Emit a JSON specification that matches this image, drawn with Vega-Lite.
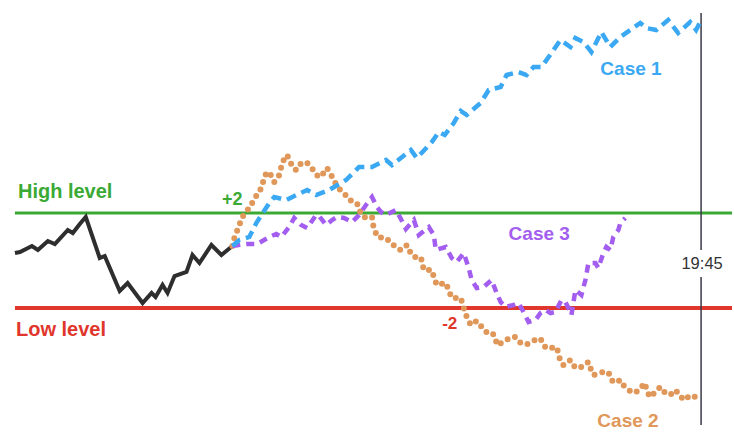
{
  "$schema": "https://vega.github.io/schema/vega-lite/v6.json",
  "width": 734,
  "height": 445,
  "autosize": {"type": "fit", "contains": "padding"},
  "padding": 0,
  "background": "white",
  "config": {"view": {"stroke": null}, "font": "Liberation Sans"},
  "datasets": {
    "history": [
      {"x":15,"y":253},{"x":20,"y":252},{"x":32,"y":246},{"x":38,"y":250},{"x":48,"y":241},{"x":55,"y":244},{"x":68,"y":230},{"x":73,"y":233},{"x":80,"y":224},{"x":86,"y":217},{"x":100,"y":258},{"x":105,"y":256},{"x":120,"y":291},{"x":128,"y":283},{"x":143,"y":303},{"x":152,"y":293},{"x":156,"y":297},{"x":163,"y":285},{"x":168,"y":293},{"x":175,"y":276},{"x":187,"y":272},{"x":193,"y":255},{"x":200,"y":263},{"x":212,"y":245},{"x":222,"y":255},{"x":233,"y":246}
    ],
    "case1": [
      {"x":233,"y":246},{"x":240,"y":240},{"x":250,"y":237},{"x":257,"y":223},{"x":270,"y":203},{"x":275,"y":197},{"x":287,"y":200},{"x":297,"y":195},{"x":308,"y":190},{"x":317,"y":195},{"x":330,"y":190},{"x":347,"y":180},{"x":360,"y":167},{"x":373,"y":167},{"x":387,"y":160},{"x":393,"y":165},{"x":412,"y":150},{"x":418,"y":158},{"x":433,"y":142},{"x":440,"y":132},{"x":446,"y":135},{"x":455,"y":123},{"x":462,"y":111},{"x":468,"y":115},{"x":482,"y":103},{"x":490,"y":90},{"x":502,"y":87},{"x":508,"y":75},{"x":520,"y":72},{"x":528,"y":75},{"x":535,"y":67},{"x":543,"y":67},{"x":553,"y":53},{"x":562,"y":40},{"x":572,"y":47},{"x":577,"y":38},{"x":585,"y":42},{"x":593,"y":52},{"x":603,"y":32},{"x":612,"y":47},{"x":622,"y":37},{"x":632,"y":30},{"x":642,"y":23},{"x":648,"y":28},{"x":658,"y":30},{"x":670,"y":20},{"x":680,"y":33},{"x":692,"y":22},{"x":698,"y":30},{"x":703,"y":20}
    ],
    "case2": [
      {"x":233,"y":246},{"x":235,"y":238},{"x":240,"y":225},{"x":243,"y":217},{"x":252,"y":205},{"x":255,"y":198},{"x":260,"y":193},{"x":262,"y":187},{"x":267,"y":173},{"x":270,"y":172},{"x":275,"y":182},{"x":280,"y":175},{"x":283,"y":163},{"x":287,"y":155},{"x":290,"y":158},{"x":293,"y":167},{"x":297,"y":170},{"x":302,"y":163},{"x":307,"y":162},{"x":312,"y":167},{"x":317,"y":175},{"x":322,"y":177},{"x":325,"y":172},{"x":328,"y":168},{"x":332,"y":175},{"x":335,"y":180},{"x":338,"y":187},{"x":345,"y":193},{"x":350,"y":200},{"x":357,"y":202},{"x":360,"y":207},{"x":362,"y":215},{"x":367,"y":218},{"x":373,"y":217},{"x":375,"y":230},{"x":380,"y":238},{"x":385,"y":237},{"x":392,"y":242},{"x":397,"y":248},{"x":402,"y":250},{"x":408,"y":245},{"x":410,"y":250},{"x":415,"y":257},{"x":422,"y":257},{"x":425,"y":270},{"x":433,"y":270},{"x":435,"y":277},{"x":438,"y":285},{"x":447,"y":283},{"x":453,"y":298},{"x":462,"y":298},{"x":465,"y":308},{"x":468,"y":317},{"x":472,"y":325},{"x":478,"y":321},{"x":483,"y":327},{"x":487,"y":332},{"x":493,"y":332},{"x":497,"y":338},{"x":498,"y":345},{"x":505,"y":342},{"x":512,"y":337},{"x":517,"y":337},{"x":522,"y":343},{"x":527,"y":345},{"x":533,"y":342},{"x":540,"y":338},{"x":545,"y":342},{"x":547,"y":348},{"x":552,"y":348},{"x":558,"y":347},{"x":560,"y":353},{"x":562,"y":362},{"x":565,"y":365},{"x":572,"y":360},{"x":577,"y":368},{"x":583,"y":367},{"x":590,"y":362},{"x":592,"y":368},{"x":595,"y":375},{"x":605,"y":372},{"x":610,"y":372},{"x":613,"y":380},{"x":617,"y":383},{"x":622,"y":380},{"x":625,"y":385},{"x":630,"y":390},{"x":637,"y":393},{"x":642,"y":388},{"x":647,"y":383},{"x":648,"y":390},{"x":652,"y":397},{"x":657,"y":392},{"x":662,"y":387},{"x":667,"y":393},{"x":672,"y":395},{"x":677,"y":390},{"x":682,"y":395},{"x":685,"y":400},{"x":690,"y":397},{"x":695,"y":395},{"x":700,"y":400}
    ],
    "case3": [
      {"x":233,"y":246},{"x":247,"y":244},{"x":258,"y":244},{"x":270,"y":237},{"x":277,"y":234},{"x":282,"y":237},{"x":290,"y":227},{"x":295,"y":218},{"x":302,"y":225},{"x":308,"y":228},{"x":317,"y":215},{"x":320,"y":216},{"x":327,"y":225},{"x":333,"y":220},{"x":338,"y":217},{"x":345,"y":218},{"x":353,"y":222},{"x":360,"y":215},{"x":367,"y":205},{"x":373,"y":197},{"x":378,"y":207},{"x":382,"y":212},{"x":387,"y":215},{"x":397,"y":210},{"x":402,"y":219},{"x":407,"y":229},{"x":415,"y":220},{"x":420,"y":235},{"x":430,"y":227},{"x":435,"y":235},{"x":437,"y":250},{"x":447,"y":247},{"x":453,"y":258},{"x":458,"y":262},{"x":465,"y":253},{"x":470,"y":268},{"x":473,"y":280},{"x":478,"y":288},{"x":485,"y":287},{"x":493,"y":280},{"x":498,"y":293},{"x":502,"y":302},{"x":507,"y":307},{"x":515,"y":305},{"x":520,"y":303},{"x":525,"y":312},{"x":530,"y":322},{"x":537,"y":320},{"x":542,"y":313},{"x":547,"y":310},{"x":552,"y":313},{"x":557,"y":312},{"x":563,"y":300},{"x":567,"y":302},{"x":572,"y":312},{"x":573,"y":315},{"x":577,"y":290},{"x":583,"y":295},{"x":587,"y":280},{"x":590,"y":263},{"x":597,"y":263},{"x":600,"y":268},{"x":605,"y":253},{"x":608,"y":247},{"x":612,"y":250},{"x":615,"y":237},{"x":620,"y":230},{"x":622,"y":223},{"x":627,"y":218}
    ]
  },
  "encoding": {
    "x": {"field": "x", "type": "quantitative", "scale": {"domain": [0, 734], "nice": false, "zero": false}, "axis": null},
    "y": {"field": "y", "type": "quantitative", "scale": {"domain": [0, 445], "nice": false, "zero": false, "reverse": true}, "axis": null}
  },
  "layer": [
    {
      "data": {"values": [{"y": 213, "x": 15, "x2": 734}]},
      "mark": {"type": "rule", "color": "#3aaa35", "strokeWidth": 3},
      "encoding": {"x2": {"field": "x2"}}
    },
    {
      "data": {"values": [{"y": 308, "x": 15, "x2": 734}]},
      "mark": {"type": "rule", "color": "#e0362c", "strokeWidth": 4},
      "encoding": {"x2": {"field": "x2"}}
    },
    {
      "data": {"values": [{"x": 703, "y": 13, "y2": 250}, {"x": 703, "y": 277, "y2": 425}]},
      "mark": {"type": "rule", "color": "#3a3a4a", "strokeWidth": 1.5},
      "encoding": {"y2": {"field": "y2"}}
    },
    {
      "data": {"name": "history"},
      "mark": {"type": "line", "color": "#2e2e2e", "strokeWidth": 4, "strokeJoin": "miter"}
    },
    {
      "data": {"name": "case2"},
      "mark": {"type": "line", "color": "#e0975a", "strokeWidth": 6, "strokeCap": "round", "strokeDash": [0, 8]}
    },
    {
      "data": {"name": "case3"},
      "mark": {"type": "line", "color": "#a35ef0", "strokeWidth": 4.5, "strokeDash": [8, 6]}
    },
    {
      "data": {"name": "case1"},
      "mark": {"type": "line", "color": "#3aa8f2", "strokeWidth": 4.5, "strokeDash": [10, 6]}
    },
    {
      "data": {"values": [{"x": 18, "y": 198, "label": "High level"}]},
      "mark": {"type": "text", "align": "left", "baseline": "alphabetic", "fontSize": 20, "fontWeight": "bold", "color": "#3aaa35"},
      "encoding": {"text": {"field": "label"}}
    },
    {
      "data": {"values": [{"x": 16, "y": 336, "label": "Low level"}]},
      "mark": {"type": "text", "align": "left", "baseline": "alphabetic", "fontSize": 20, "fontWeight": "bold", "color": "#e0362c"},
      "encoding": {"text": {"field": "label"}}
    },
    {
      "data": {"values": [{"x": 233, "y": 205, "label": "+2"}]},
      "mark": {"type": "text", "align": "center", "baseline": "alphabetic", "fontSize": 18, "fontWeight": "bold", "color": "#3aaa35"},
      "encoding": {"text": {"field": "label"}}
    },
    {
      "data": {"values": [{"x": 451, "y": 329, "label": "-2"}]},
      "mark": {"type": "text", "align": "center", "baseline": "alphabetic", "fontSize": 17, "fontWeight": "bold", "color": "#e0362c"},
      "encoding": {"text": {"field": "label"}}
    },
    {
      "data": {"values": [{"x": 602, "y": 75, "label": "Case 1"}]},
      "mark": {"type": "text", "align": "left", "baseline": "alphabetic", "fontSize": 19, "fontWeight": "bold", "color": "#3aa8f2"},
      "encoding": {"text": {"field": "label"}}
    },
    {
      "data": {"values": [{"x": 599, "y": 427, "label": "Case 2"}]},
      "mark": {"type": "text", "align": "left", "baseline": "alphabetic", "fontSize": 19, "fontWeight": "bold", "color": "#e0975a"},
      "encoding": {"text": {"field": "label"}}
    },
    {
      "data": {"values": [{"x": 510, "y": 240, "label": "Case 3"}]},
      "mark": {"type": "text", "align": "left", "baseline": "alphabetic", "fontSize": 19, "fontWeight": "bold", "color": "#a35ef0"},
      "encoding": {"text": {"field": "label"}}
    },
    {
      "data": {"values": [{"x": 704, "y": 269, "label": "19:45"}]},
      "mark": {"type": "text", "align": "center", "baseline": "alphabetic", "fontSize": 16.5, "color": "#333333"},
      "encoding": {"text": {"field": "label"}}
    }
  ]
}
